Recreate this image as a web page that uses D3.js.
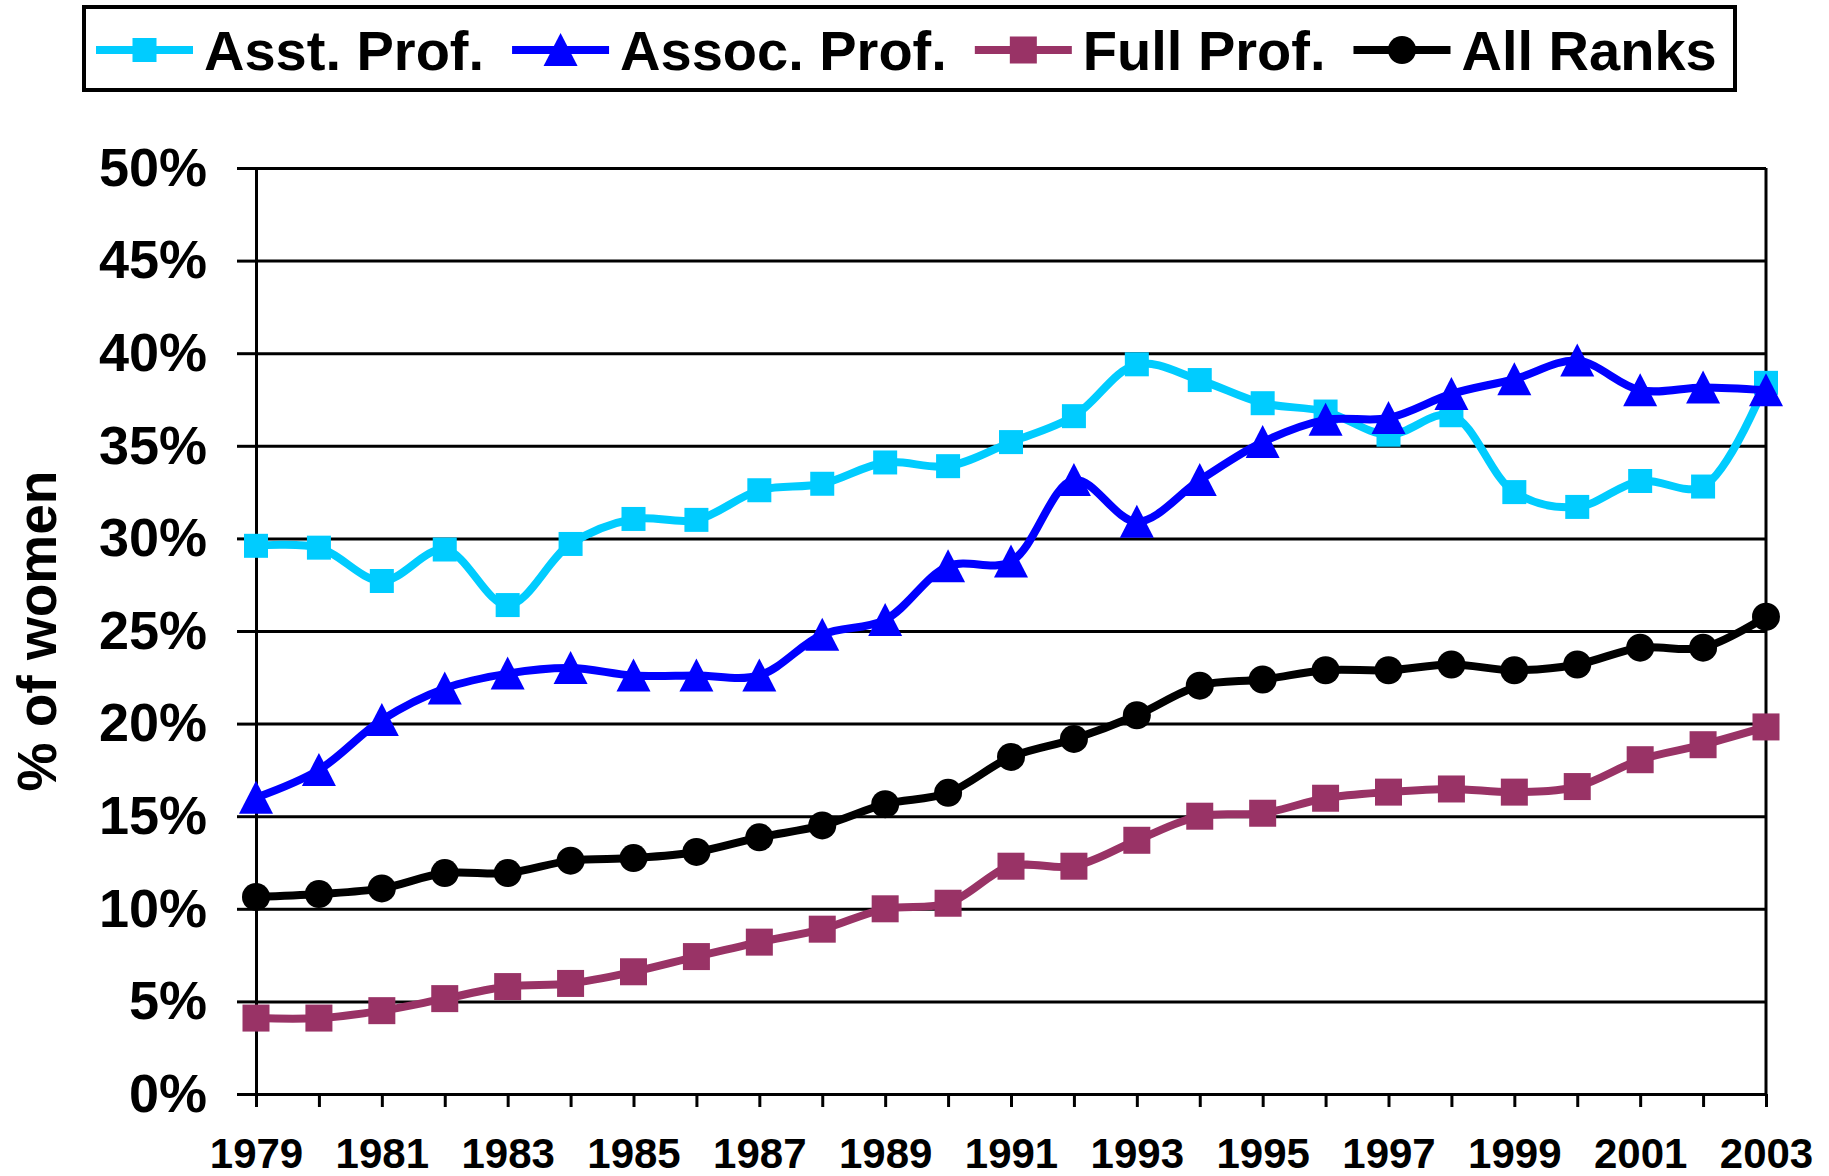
<!DOCTYPE html>
<html>
  <head>
    <title>Women faculty by rank</title>
    <script src="https://cdn.jsdelivr.net/npm/d3@7"></script>
    <style>
      body, html { margin: 0; padding: 0; background: #fff; }
      svg { display: block; }
      text { font-family: "Liberation Sans", Arial, sans-serif; font-weight: bold; fill: #000; }
    </style>
  </head>
  <body>
    <svg id="svg" width="1829" height="1176"></svg>
    <script>
      // years on the x axis
      const years = d3.range(1979, 2004);
      const yearLabels = [1979, 1981, 1983, 1985, 1987, 1989, 1991, 1993, 1995, 1997, 1999, 2001, 2003];
      const pctTicks = [0, 5, 10, 15, 20, 25, 30, 35, 40, 45, 50];

      // % of women
      const asstProf = [29.6, 29.5, 27.7, 29.4, 26.4, 29.7, 31.05, 31.0, 32.6, 32.95, 34.1, 33.9,
        35.2, 36.6, 39.4, 38.55, 37.3, 36.85, 35.6, 36.65, 32.5, 31.7, 33.1, 32.8, 38.4];
      const assocProf = [16.0, 17.5, 20.2, 21.9, 22.7, 23.0, 22.6, 22.6, 22.6, 24.8, 25.6, 28.5,
        28.75, 33.15, 30.9, 33.15, 35.2, 36.4, 36.5, 37.8, 38.6, 39.6, 38.0, 38.15, 38.0];
      const fullProf = [4.1, 4.1, 4.5, 5.15, 5.8, 5.97, 6.6, 7.42, 8.2, 8.9, 10.0, 10.3,
        12.3, 12.3, 13.7, 15.0, 15.16, 15.97, 16.3, 16.47, 16.3, 16.6, 18.05, 18.86, 19.82];
      const allRanks = [10.64, 10.8, 11.1, 11.93, 11.93, 12.6, 12.74, 13.07, 13.86, 14.5, 15.65, 16.26,
        18.2, 19.17, 20.45, 22.05, 22.38, 22.88, 22.88, 23.19, 22.88, 23.19, 24.1, 24.1, 25.77];

      const seriesNames = ["Asst. Prof.", "Assoc. Prof.", "Full Prof.", "All Ranks"];
      const seriesValues = [asstProf, assocProf, fullProf, allRanks];
      const seriesColors = ["#00ccff", "#0000ff", "#993366", "#000000"];
      const seriesMarkers = ["square", "triangle", "bigsquare", "circle"];

      const plotLeft = 256, plotRight = 1766, plotTop = 168, plotBottom = 1094;

      const svg = d3.select("#svg");

      const xscale = d3.scaleLinear().domain([1979, 2003]).range([plotLeft, plotRight]);
      const yscale = d3.scaleLinear().domain([0, 50]).range([plotBottom, plotTop]);

      // gridlines
      svg.append("g")
        .attr("transform", `translate(${plotLeft},0)`)
        .call(d3.axisLeft(yscale).tickValues(pctTicks).tickSize(-(plotRight - plotLeft)).tickFormat(""))
        .call(g => g.select(".domain").remove())
        .call(g => g.selectAll("line").attr("stroke", "#000").attr("stroke-width", 3));

      // left axis with outside ticks + labels
      svg.append("g")
        .attr("transform", `translate(${plotLeft},0)`)
        .call(d3.axisLeft(yscale).tickValues(pctTicks).tickSize(19).tickSizeOuter(0).tickPadding(30)
          .tickFormat(d => d + "%"))
        .call(g => g.select(".domain").attr("stroke-width", 3))
        .call(g => g.selectAll("line").attr("stroke-width", 3))
        .call(g => g.selectAll("text").attr("font-size", 54).attr("font-family", null));

      // bottom axis
      svg.append("g")
        .attr("transform", `translate(0,${plotBottom})`)
        .call(d3.axisBottom(xscale).tickValues(years).tickSize(13).tickSizeOuter(0).tickPadding(31)
          .tickFormat(d => yearLabels.includes(d) ? String(d) : ""))
        .call(g => g.select(".domain").attr("stroke-width", 3))
        .call(g => g.selectAll("line").attr("stroke-width", 3))
        .call(g => g.selectAll("text").attr("font-size", 42).attr("font-family", null));

      // right border of the plot
      svg.append("line")
        .attr("x1", xscale(2003)).attr("x2", xscale(2003))
        .attr("y1", yscale(50)).attr("y2", yscale(0))
        .attr("stroke", "#000").attr("stroke-width", 3);

      // y axis title
      svg.append("text")
        .attr("transform", `translate(56,${(plotTop + plotBottom) / 2}) rotate(-90)`)
        .attr("text-anchor", "middle")
        .attr("font-size", 55)
        .text("% of women");

      function drawMarker(g, type, color) {
        if (type === "circle") {
          g.append("circle").attr("r", 14).attr("fill", color);
        } else if (type === "triangle") {
          g.append("path").attr("d", "M0,-17L17,16L-17,16Z").attr("fill", color);
        } else {
          const s = type === "bigsquare" ? 27 : 24;
          g.append("rect").attr("x", -s / 2).attr("y", -s / 2).attr("width", s).attr("height", s).attr("fill", color);
        }
      }

      const linegen = d3.line()
        .x((d, i) => xscale(years[i]))
        .y(d => yscale(d))
        .curve(d3.curveCatmullRom.alpha(0.5));

      seriesValues.forEach((vals, k) => {
        const g = svg.append("g");
        g.append("path")
          .attr("d", linegen(vals))
          .attr("fill", "none")
          .attr("stroke", seriesColors[k])
          .attr("stroke-width", 8)
          .attr("stroke-linejoin", "round");
        vals.forEach((v, i) => {
          const m = g.append("g").attr("transform", `translate(${xscale(years[i])},${yscale(v)})`);
          drawMarker(m, seriesMarkers[k], seriesColors[k]);
        });
      });

      // legend
      const legend = svg.append("g");
      legend.append("rect")
        .attr("x", 84).attr("y", 7).attr("width", 1651).attr("height", 83)
        .attr("fill", "#fff").attr("stroke", "#000").attr("stroke-width", 4);
      let lx = 96;
      seriesNames.forEach((name, k) => {
        const item = legend.append("g").attr("transform", `translate(${lx},50)`);
        item.append("line").attr("x1", 0).attr("x2", 97).attr("y1", 0).attr("y2", 0)
          .attr("stroke", seriesColors[k]).attr("stroke-width", 8);
        drawMarker(item.append("g").attr("transform", "translate(48.5,0)"), seriesMarkers[k], seriesColors[k]);
        const t = item.append("text").attr("x", 108).attr("y", 20).attr("font-size", 56).text(name);
        lx += 108 + t.node().getComputedTextLength() + 28;
      });
    </script>
  </body>
</html>
